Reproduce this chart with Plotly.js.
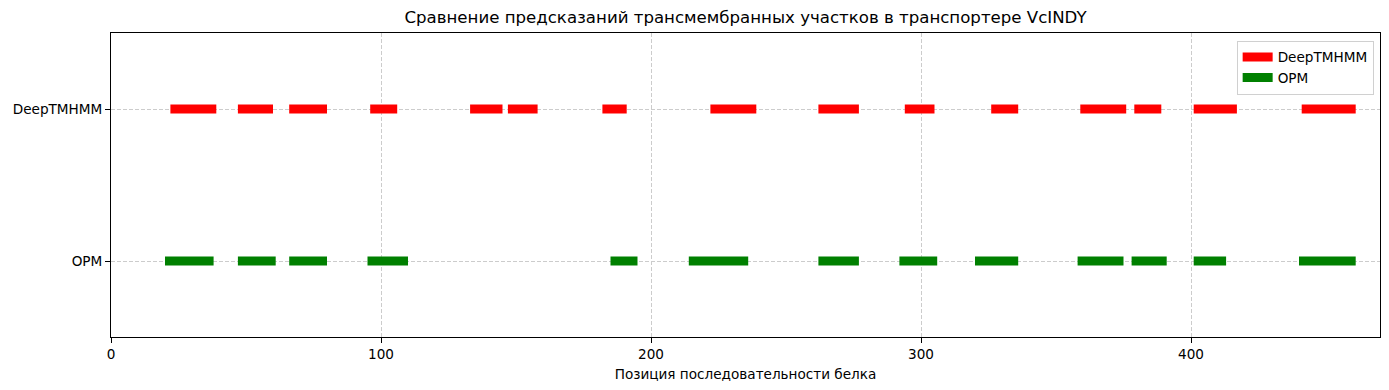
<!DOCTYPE html>
<html>
<head>
<meta charset="utf-8">
<script src="https://cdn.plot.ly/plotly-3.0.1.min.js"></script>
<style>html,body{margin:0;padding:0;background:#fff;}#chart{width:1389px;height:390px;}</style>
</head>
<body>
<div id="chart"></div>
<script>
const categories = ["OPM", "DeepTMHMM"];
const deepStart = [22, 47, 66, 96, 133, 147, 182, 222, 262, 294, 326, 359, 379, 401, 441];
const deepEnd   = [39, 60, 80, 106, 145, 158, 191, 239, 277, 305, 336, 376, 389, 417, 461];
const opmStart  = [20, 47, 66, 95, 185, 214, 262, 292, 320, 358, 378, 401, 440];
const opmEnd    = [38, 61, 80, 110, 195, 236, 277, 306, 336, 375, 391, 413, 461];
const xTicks = [0, 100, 200, 300, 400];

function segs(starts, ends, yv) {
  const x = [], y = [];
  for (let i = 0; i < starts.length; i++) {
    x.push(starts[i], ends[i], null);
    y.push(yv, yv, null);
  }
  return {x, y};
}
const d = segs(deepStart, deepEnd, 1);
const o = segs(opmStart, opmEnd, 0);

const traces = [
  {x: d.x, y: d.y, mode: 'lines', name: 'DeepTMHMM', line: {color: 'red', width: 9}, connectgaps: false, hoverinfo: 'x+name'},
  {x: o.x, y: o.y, mode: 'lines', name: 'OPM', line: {color: 'green', width: 9}, connectgaps: false, hoverinfo: 'x+name'}
];

const font = {family: 'DejaVu Sans, sans-serif', color: '#000'};
const layout = {
  width: 1389, height: 390,
  margin: {l: 111, r: 9, t: 33, b: 53},
  paper_bgcolor: '#fff', plot_bgcolor: '#fff',
  font: Object.assign({size: 13.6}, font),
  title: {text: 'Сравнение предсказаний трансмембранных участков в транспортере VcINDY',
          font: Object.assign({size: 16.6}, font), xref: 'paper', x: 0.5, xanchor: 'center', y: 0.955, yanchor: 'middle'},
  xaxis: {
    range: [0, 470], tickvals: xTicks, ticktext: xTicks.map(String),
    showline: true, linecolor: '#000', linewidth: 1, mirror: true,
    ticks: 'outside', ticklen: 5, tickcolor: '#000', tickwidth: 1,
    showgrid: true, gridcolor: '#cccccc', griddash: '4px,2px', gridwidth: 1,
    zeroline: false, tickfont: Object.assign({size: 13.6}, font),
    title: {text: 'Позиция последовательности белка', font: Object.assign({size: 13.6}, font), standoff: 8}
  },
  yaxis: {
    range: [-0.5, 1.5], tickvals: [0, 1], ticktext: categories,
    showline: true, linecolor: '#000', linewidth: 1, mirror: true,
    ticks: 'outside', ticklen: 5, tickcolor: '#000', tickwidth: 1,
    showgrid: true, gridcolor: '#cccccc', griddash: '4px,2px', gridwidth: 1,
    zeroline: false, tickfont: Object.assign({size: 13.6}, font)
  },
  showlegend: true,
  legend: {x: 0.995, y: 0.975, xanchor: 'right', yanchor: 'top',
           bgcolor: 'rgba(255,255,255,0.8)', bordercolor: '#d0d0d0', borderwidth: 1,
           font: Object.assign({size: 13.6}, font), tracegroupgap: 0}
};
Plotly.newPlot('chart', traces, layout, {displayModeBar: false, staticPlot: true});
</script>
</body>
</html>
